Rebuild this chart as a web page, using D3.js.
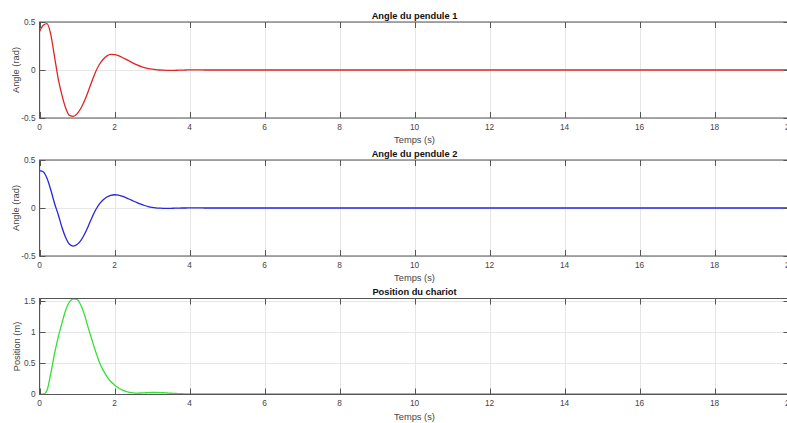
<!DOCTYPE html>
<html>
<head>
<meta charset="utf-8">
<script src="https://cdn.jsdelivr.net/npm/d3@7"></script>
<style>
  html, body { margin: 0; padding: 0; background: #fff; overflow: hidden; }
  svg { display: block; }
</style>
</head>
<body>
<svg id="chart" width="787" height="423"></svg>
<script>
// ---------- data ----------
const timeS = [0,0.1,0.2,0.3,0.4,0.5,0.6,0.7,0.8,0.9,1.0,1.1,1.2,1.3,1.4,1.5,1.6,1.7,1.8,1.9,
  2.0,2.1,2.2,2.3,2.4,2.5,2.6,2.7,2.8,2.9,3.0,3.1,3.2,3.3,3.4,3.5,3.6,3.7,3.8,3.9,
  4.0,4.1,4.2,4.3,4.4,4.5,20];

const angle1 = [0.400,0.466,0.483,0.372,0.140,-0.092,-0.264,-0.398,-0.473,-0.484,
  -0.457,-0.401,-0.321,-0.222,-0.115,-0.015,0.060,0.112,0.147,0.162,
  0.160,0.150,0.133,0.113,0.092,0.072,0.054,0.038,0.025,0.015,
  0.008,0.003,0.000,-0.002,-0.003,-0.003,-0.003,-0.002,-0.001,0.000,
  0.001,0.001,0.001,0.001,0.000,0.000,0];

const angle2 = [0.390,0.378,0.310,0.190,0.050,-0.070,-0.203,-0.309,-0.377,-0.397,
  -0.381,-0.339,-0.273,-0.189,-0.098,-0.018,0.042,0.085,0.115,0.132,
  0.138,0.133,0.123,0.108,0.091,0.073,0.056,0.040,0.026,0.015,
  0.007,0.002,-0.001,-0.003,-0.003,-0.003,-0.002,-0.001,0.000,0.000,
  0.001,0.001,0.001,0.001,0.000,0.000,0];

const position = [0,-0.004,0.06,0.33,0.65,0.92,1.15,1.36,1.49,1.54,
  1.53,1.44,1.28,1.07,0.87,0.68,0.51,0.38,0.28,0.20,
  0.145,0.10,0.065,0.04,0.025,0.016,0.013,0.014,0.017,0.020,
  0.022,0.022,0.021,0.018,0.014,0.010,0.007,0.004,0.002,0.001,
  0,0,0,0,0,0,0];

const xTicks = [0,2,4,6,8,10,12,14,16,18,20];
const yTicksAngle = [-0.5,0,0.5];
const yTicksPos = [0,0.5,1,1.5];
const titles = ["Angle du pendule 1","Angle du pendule 2","Position du chariot"];
const yLabels = ["Angle (rad)","Angle (rad)","Position (m)"];
const xLabel = "Temps (s)";

// ---------- layout ----------
const svg = d3.select("#chart");
const left = 39.5, right = 789.5;
const panels = [
  {top: 22, bottom: 118, series: angle1, color: "#e02424", domain: [-0.5, 0.5], ticks: yTicksAngle, ylabX: 18.5},
  {top: 160, bottom: 256, series: angle2, color: "#2626dc", domain: [-0.5, 0.5], ticks: yTicksAngle, ylabX: 18.5},
  {top: 298.5, bottom: 394.5, series: position, color: "#33e033", domain: [-0.01, 1.545], ticks: yTicksPos, ylabX: 20}
];
const font = "'Liberation Sans', Arial, Helvetica, sans-serif";
const axisColor = "#555";
const textColor = "#444";
const gridColor = "#e6e6e6";
const tickLen = 6;

const x = d3.scaleLinear().domain([0, 20]).range([left, right]);

panels.forEach((p, i) => {
  const y = d3.scaleLinear().domain(p.domain).range([p.bottom, p.top]);
  const g = svg.append("g");

  // grid
  g.selectAll(".vg").data(xTicks).join("line")
    .attr("x1", d => Math.round(x(d)) + 0.5).attr("x2", d => Math.round(x(d)) + 0.5)
    .attr("y1", p.top).attr("y2", p.bottom)
    .attr("stroke", gridColor).attr("stroke-width", 1);
  g.selectAll(".hg").data(p.ticks).join("line")
    .attr("x1", left).attr("x2", right)
    .attr("y1", d => Math.round(y(d)) + 0.5).attr("y2", d => Math.round(y(d)) + 0.5)
    .attr("stroke", gridColor).attr("stroke-width", 1);

  // clip
  const cid = "clip" + i;
  svg.append("clipPath").attr("id", cid).append("rect")
    .attr("x", left).attr("y", p.top - 1).attr("width", right - left).attr("height", p.bottom - p.top + 2);

  // line
  const line = d3.line()
    .x((d, k) => x(timeS[k]))
    .y(d => y(d))
    .curve(d3.curveMonotoneX);
  g.append("path")
    .datum(p.series)
    .attr("d", line)
    .attr("fill", "none")
    .attr("stroke", p.color)
    .attr("stroke-width", 1.3)
    .attr("clip-path", `url(#${cid})`);

  // box
  g.append("rect")
    .attr("x", left).attr("y", p.top)
    .attr("width", right - left).attr("height", p.bottom - p.top)
    .attr("fill", "none").attr("stroke", axisColor).attr("stroke-width", 1);

  // x ticks (inside, top and bottom)
  xTicks.forEach(t => {
    const xx = Math.round(x(t)) + 0.5;
    g.append("line").attr("x1", xx).attr("x2", xx).attr("y1", p.bottom).attr("y2", p.bottom - tickLen)
      .attr("stroke", axisColor);
    g.append("line").attr("x1", xx).attr("x2", xx).attr("y1", p.top).attr("y2", p.top + tickLen)
      .attr("stroke", axisColor);
  });
  // y ticks (inside, left and right)
  p.ticks.forEach(t => {
    const yy = Math.round(y(t)) + 0.5;
    g.append("line").attr("x1", left).attr("x2", left + tickLen).attr("y1", yy).attr("y2", yy)
      .attr("stroke", axisColor);
    g.append("line").attr("x1", right).attr("x2", right - tickLen).attr("y1", yy).attr("y2", yy)
      .attr("stroke", axisColor);
  });

  // x tick labels
  g.selectAll(".xt").data(xTicks).join("text")
    .attr("x", d => x(d)).attr("y", p.bottom + 11.5)
    .attr("text-anchor", "middle")
    .attr("font-family", font).attr("font-size", 8.3).attr("fill", textColor)
    .text(d => d3.format("")(d));

  // y tick labels
  g.selectAll(".yt").data(p.ticks).join("text")
    .attr("x", left - 4).attr("y", d => y(d) + 3)
    .attr("text-anchor", "end")
    .attr("font-family", font).attr("font-size", 8.3).attr("fill", textColor)
    .text(d => String(d));

  // x label
  g.append("text")
    .attr("x", (left + right) / 2).attr("y", p.bottom + 25)
    .attr("text-anchor", "middle")
    .attr("font-family", font).attr("font-size", 9.3).attr("fill", textColor)
    .text(xLabel);

  // y label
  g.append("text")
    .attr("transform", `translate(${p.ylabX},${(p.top + p.bottom) / 2}) rotate(-90)`)
    .attr("text-anchor", "middle")
    .attr("font-family", font).attr("font-size", 9.3).attr("fill", textColor)
    .text(yLabels[i]);

  // title
  g.append("text")
    .attr("x", (left + right) / 2).attr("y", p.top - 3.5)
    .attr("text-anchor", "middle")
    .attr("font-family", font).attr("font-size", 9.3).attr("font-weight", "bold").attr("fill", "#111")
    .text(titles[i]);
});
</script>
</body>
</html>
